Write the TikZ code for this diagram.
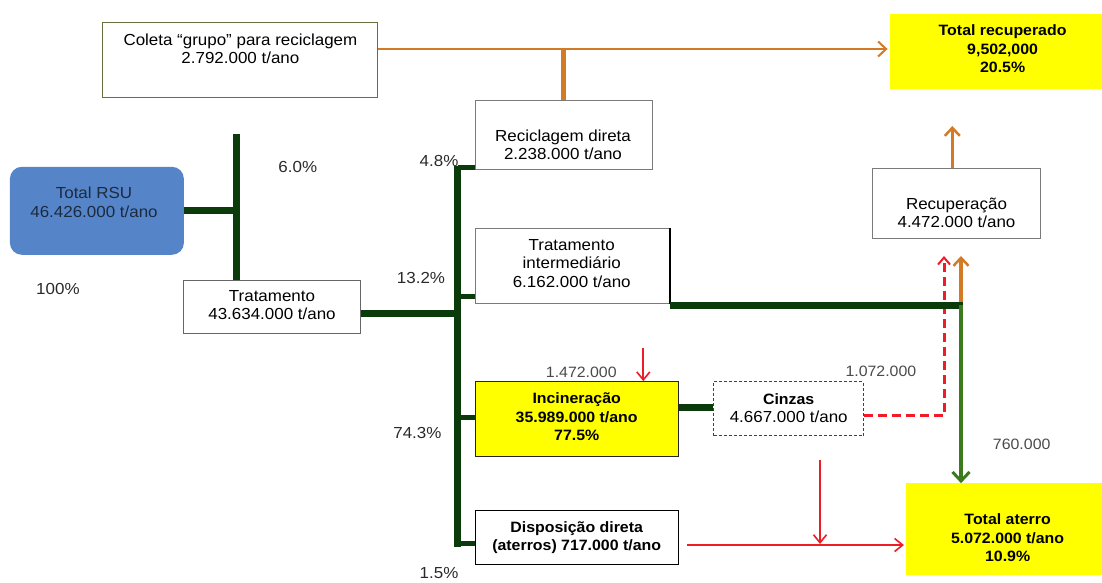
\documentclass[tikz,border=0pt]{standalone}
\usepackage{fontspec}
\setmainfont{Liberation Sans}[FakeStretch=1.06]
\usetikzlibrary{arrows.meta,calc}
\definecolor{trunkgreen}{HTML}{0B3A0B}
\definecolor{ltgreen}{HTML}{3C7A1E}
\definecolor{orng}{HTML}{D27A25}
\definecolor{rd}{HTML}{EE1C24}
\definecolor{yel}{HTML}{FFFF00}
\definecolor{rsublue}{HTML}{5585C8}
\definecolor{olivebd}{HTML}{66703F}
\definecolor{graybd}{HTML}{7A7A7A}
\definecolor{graytxt}{HTML}{4A4A4A}
\definecolor{pcttxt}{HTML}{2A2A2A}
\definecolor{rsutxt}{HTML}{1C2A40}
\begin{document}
\begin{tikzpicture}[x=1pt,y=-1pt,
  box/.style={draw=graybd,line width=1.1pt,inner sep=0pt},
  txt/.style={align=center,inner sep=0pt,text=black,font=\fontsize{16}{18.5}\selectfont},
  btxt/.style={align=center,inner sep=0pt,text=black,font=\fontsize{15}{18.5}\selectfont\bfseries},
  pct/.style={inner sep=0pt,text=pcttxt,font=\fontsize{16}{18}\selectfont},
  num/.style={inner sep=0pt,text=graytxt,font=\fontsize{15}{18}\selectfont},
  trunk/.style={draw=trunkgreen,line width=7pt},
  branch/.style={draw=trunkgreen,line width=5pt},
  redarrow/.style={color=rd,line width=1.8pt,-{Straight Barb[length=8pt,width=13pt,line width=1.6pt]}},
  orngarrow/.style={color=orng,line width=3pt,-{Straight Barb[length=8pt,width=15pt,line width=2.5pt]}},
]
\useasboundingbox (0,0) rectangle (1102,582);

% ---------- boxes ----------
\node[box,draw=olivebd,minimum width=275pt,minimum height=74.6pt] (coleta) at (240.4,60) {};
\node[txt] (coletaT) at (240.4,48.7) {Coleta “grupo” para reciclagem\\2.792.000 t/ano};

\node[fill=rsublue,draw=none,rounded corners=12pt,minimum width=174pt,minimum height=88pt,inner sep=0pt] (rsu) at (96.9,210.8) {};
\node[txt,text=rsutxt] (rsuT) at (94,202.5) {Total RSU\\46.426.000 t/ano};

\node[box,draw=black!60,minimum width=177pt,minimum height=53.3pt] (trat) at (272,306.7) {};
\node[txt] (tratT) at (272,305) {Tratamento\\43.634.000 t/ano};

\node[box,minimum width=177.5pt,minimum height=69.3pt] (recd) at (564,134.7) {};
\node[txt] (recdT) at (563,145) {Reciclagem direta\\2.238.000 t/ano};

\node[box,minimum width=194.4pt,minimum height=74.7pt] (tint) at (572.5,265.7) {};
\draw[black,line width=1.6pt] (tint.north east) -- (tint.south east);
\node[txt] (tintT) at (571.7,263.3) {Tratamento\\intermediário\\6.162.000 t/ano};

\node[box,draw=black!85,fill=yel,minimum width=203pt,minimum height=75pt] (inc) at (576.8,419.2) {};
\node[btxt] (incT) at (576.7,417) {Incineração\\35.989.000 t/ano\\77.5\%};

\node[box,draw=black!75,dash pattern=on 3pt off 2pt,line width=1pt,minimum width=149.6pt,minimum height=54.3pt] (cinz) at (788.5,408.8) {};
\node[txt] (cinzT) at (788.7,408) {\fontsize{15}{18.5}\selectfont\bfseries Cinzas\\4.667.000 t/ano};

\node[box,draw=black,line width=1.4pt,minimum width=203pt,minimum height=53.8pt] (disp) at (576.8,537.4) {};
\node[btxt] (dispT) at (576.7,537.8) {Disposição direta\\(aterros) 717.000 t/ano};

\node[box,minimum width=167.7pt,minimum height=70pt] (recup) at (956.7,203.3) {};
\node[txt] (recupT) at (956.5,213) {Recuperação\\4.472.000 t/ano};

\node[fill=yel,draw=none,inner sep=0pt,minimum width=212.3pt,minimum height=75.3pt] (trec) at (995.9,51.7) {};
\node[btxt] (trecT) at (1002.6,48.9) {Total recuperado\\9,502,000\\20.5\%};

\node[fill=yel,draw=none,inner sep=0pt,minimum width=195.8pt,minimum height=91.7pt] (tat) at (1004,529.2) {};
\node[btxt] (tatT) at (1007.6,538) {Total aterro\\5.072.000 t/ano\\10.9\%};

% ---------- labels ----------
\node[pct] (p60) at (297.8,166.7) {6.0\%};
\node[pct] (p100) at (57.9,289.3) {100\%};
\node[pct] (p48) at (439,161) {4.8\%};
\node[pct] (p132) at (421,278.3) {13.2\%};
\node[pct] (p743) at (417.4,433.3) {74.3\%};
\node[pct] (p15) at (439,573) {1.5\%};
\node[num] (n1472) at (581.3,372.7) {1.472.000};
\node[num] (n1072) at (880.9,371.7) {1.072.000};
\node[num] (n760) at (1021.7,444) {760.000};

% ---------- green trunks ----------
\coordinate (j1) at (236.8,134);
\draw[trunk] (rsu.east) -- (rsu.east -| j1);
\draw[trunk] (j1) -- (j1 |- trat.north);

\coordinate (j2top) at (457.7,165.5);
\coordinate (j2bot) at (457.7,546.5);
\draw[trunk] (j2top) -- (j2bot);
\coordinate (tr) at ([yshift=-6.6pt]trat.east);
\draw[trunk] (tr) -- (tr -| j2top);
\coordinate (b1) at ([yshift=2.5pt]recd.south west);
\coordinate (b2) at ([yshift=7pt]tint.south west);
\coordinate (b3) at ([yshift=2pt]inc.west);
\coordinate (b4) at ([yshift=-6pt]disp.west);
\draw[branch] (b1 -| j2top) -- (b1);
\draw[branch] (b2 -| j2top) -- (b2);
\draw[branch] (b3 -| j2top) -- (b3);
\draw[branch] (b4 -| j2top) -- (b4);

% incineration -> ash
\coordinate (ic) at ([yshift=12pt]inc.east);
\draw[trunk] (ic) -- (ic -| cinz.west);

% ---------- orange ----------
\coordinate (co) at ([yshift=11pt]coleta.east);
\draw[color=orng,line width=2pt,-{Straight Barb[length=8pt,width=15pt,line width=2pt]}] (co) -- ([xshift=-2pt]co -| trec.west);
\coordinate (ov) at (563.4,49);
\draw[draw=orng,line width=5pt] (ov) -- (ov |- recd.north);
\coordinate (ot) at (952.3,126);
\draw[orngarrow] (ot |- recup.north) -- (ot);
\coordinate (gj) at (961,305);
\coordinate (oa) at (961,256);
\draw[orngarrow,line width=4.5pt] ([yshift=3pt]gj) -- (oa);

% ---------- red dashed ----------
\coordinate (rdash) at (944,256);
\coordinate (ce) at ([yshift=-7pt]cinz.east);
\draw[color=rd,line width=3pt,dash pattern=on 9pt off 5pt,-{Straight Barb[length=7pt,width=12pt,line width=2pt]}] (ce) -| (rdash);

% tint -> junction
\coordinate (te) at ([yshift=-2pt]tint.south east);
\draw[trunk,line cap=butt] (te) -- ([xshift=2pt]te -| gj);
\draw[color=ltgreen,line width=4pt,-{Straight Barb[length=9pt,width=17pt,line width=3pt]}] (gj) -- (gj |- tat.north);

% ---------- red arrows ----------
\coordinate (ri) at (643.3,348);
\draw[redarrow] (ri) -- (ri |- inc.north);
\coordinate (rs) at (686.7,545);
\draw[redarrow] (rs) -- ([xshift=-2pt]rs -| tat.west);
\coordinate (rv) at (820,460);
\draw[redarrow] (rv) -- ([yshift=1pt]rv |- rs);
\end{tikzpicture}
\end{document}
